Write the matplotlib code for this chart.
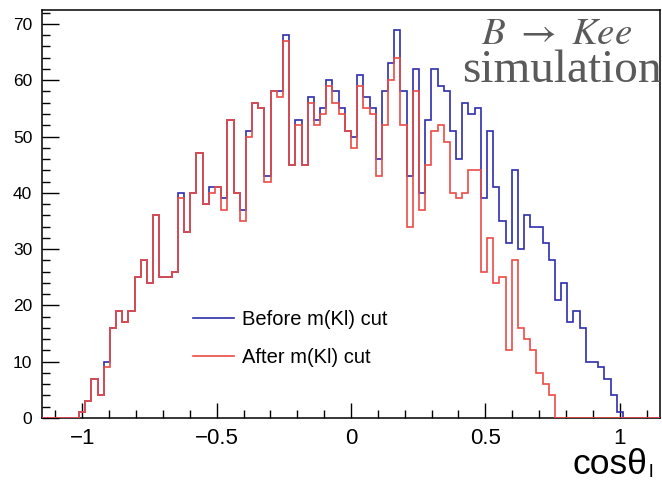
import numpy as np
import matplotlib
matplotlib.use("Agg")
import matplotlib.pyplot as plt
from matplotlib.ticker import MultipleLocator

# cos(theta_l) histogram, 100 bins between -1.15 and 1.15
bin_edges = np.linspace(-1.15, 1.15, 101)

before_cut = [
    0, 0, 0, 0, 0, 0, 1, 3, 7, 4,
    10, 16, 19, 17, 19, 25, 28, 24, 36, 25,
    25, 26, 40, 33, 40, 47, 38, 41, 41, 39,
    53, 40, 37, 51, 56, 55, 43, 58, 58, 68,
    45, 53, 45, 57, 53, 55, 60, 58, 55, 51,
    50, 61, 57, 55, 46, 58, 63, 69, 58, 43,
    62, 40, 53, 62, 59, 58, 51, 46, 56, 54,
    55, 39, 51, 41, 35, 31, 44, 30, 36, 34,
    34, 31, 28, 21, 24, 17, 19, 16, 10, 10,
    9, 7, 4, 1, 0, 0, 0, 0, 0, 0,
]

after_cut = [
    0, 0, 0, 0, 0, 0, 1, 3, 7, 4,
    9, 16, 19, 17, 19, 25, 28, 24, 36, 25,
    25, 26, 39, 33, 40, 47, 38, 40, 41, 37,
    53, 40, 35, 50, 56, 55, 42, 58, 57, 67,
    45, 52, 45, 56, 52, 54, 59, 56, 54, 51,
    48, 59, 55, 54, 43, 52, 60, 64, 52, 34,
    58, 37, 45, 51, 52, 49, 40, 39, 40, 44,
    44, 26, 32, 24, 25, 12, 28, 16, 14, 12,
    8, 6, 4, 0, 0, 0, 0, 0, 0, 0,
    0, 0, 0, 0, 0, 0, 0, 0, 0, 0,
]

labels = ["Before m(Kl) cut", "After m(Kl) cut"]
cor_antes = "#2e2eae"
cor_depois = "#ec4c46"

plt.rcParams["font.family"] = ["Liberation Sans", "DejaVu Sans"]

fig = plt.figure(figsize=(6.62, 4.82), dpi=100)
ax = fig.add_axes([0.0634, 0.1328, 0.9336, 0.8462])

ax.stairs(before_cut, bin_edges, color=cor_antes, lw=1.2, label=labels[0], zorder=3)
ax.stairs(after_cut, bin_edges, color=cor_depois, lw=1.2, label=labels[1], zorder=3)

ax.set_xlim(-1.15, 1.15)
ax.set_ylim(0, 72.45)

ax.xaxis.set_major_locator(MultipleLocator(0.5))
ax.xaxis.set_minor_locator(MultipleLocator(0.1))
ax.yaxis.set_major_locator(MultipleLocator(10))
ax.yaxis.set_minor_locator(MultipleLocator(2))
ax.set_xticks([-1, -0.5, 0, 0.5, 1])
ax.set_xticklabels(["\u22121", "\u22120.5", "0", "0.5", "1"])

ax.tick_params(axis="x", which="major", direction="in", length=11, width=1,
               labelsize=16, pad=7)
ax.tick_params(axis="x", which="minor", direction="in", length=5.5, width=1)
ax.tick_params(axis="y", which="major", direction="in", length=12, width=1,
               labelsize=12.5, pad=7)
ax.tick_params(axis="y", which="minor", direction="in", length=6, width=1)
for lado in ax.spines.values():
    lado.set_linewidth(1.1)
    lado.set_zorder(2)

leg = ax.legend(loc="upper left", bbox_to_anchor=(0.245, 0.265), frameon=False,
                fontsize=14.5, handlelength=2.0, handletextpad=0.4,
                labelspacing=0.95, borderpad=0, borderaxespad=0)

# titulo / anotacao no canto superior direito
fig.text(0.955, 0.909, r"$B\ \rightarrow\ Kee$", ha="right", va="baseline",
         fontsize=28, color="#5a5a5a", math_fontfamily="stix")
fig.text(1.0, 0.83, "simulation", ha="right", va="baseline",
         fontsize=34, color="#5a5a5a", family="Liberation Serif")

# rotulo do eixo x
fig.text(0.978, 0.017, "cos\u03b8", ha="right", va="baseline", fontsize=25.5)
fig.text(0.980, 0.010, "l", ha="left", va="baseline", fontsize=14)

plt.savefig("out.png", dpi=100)
